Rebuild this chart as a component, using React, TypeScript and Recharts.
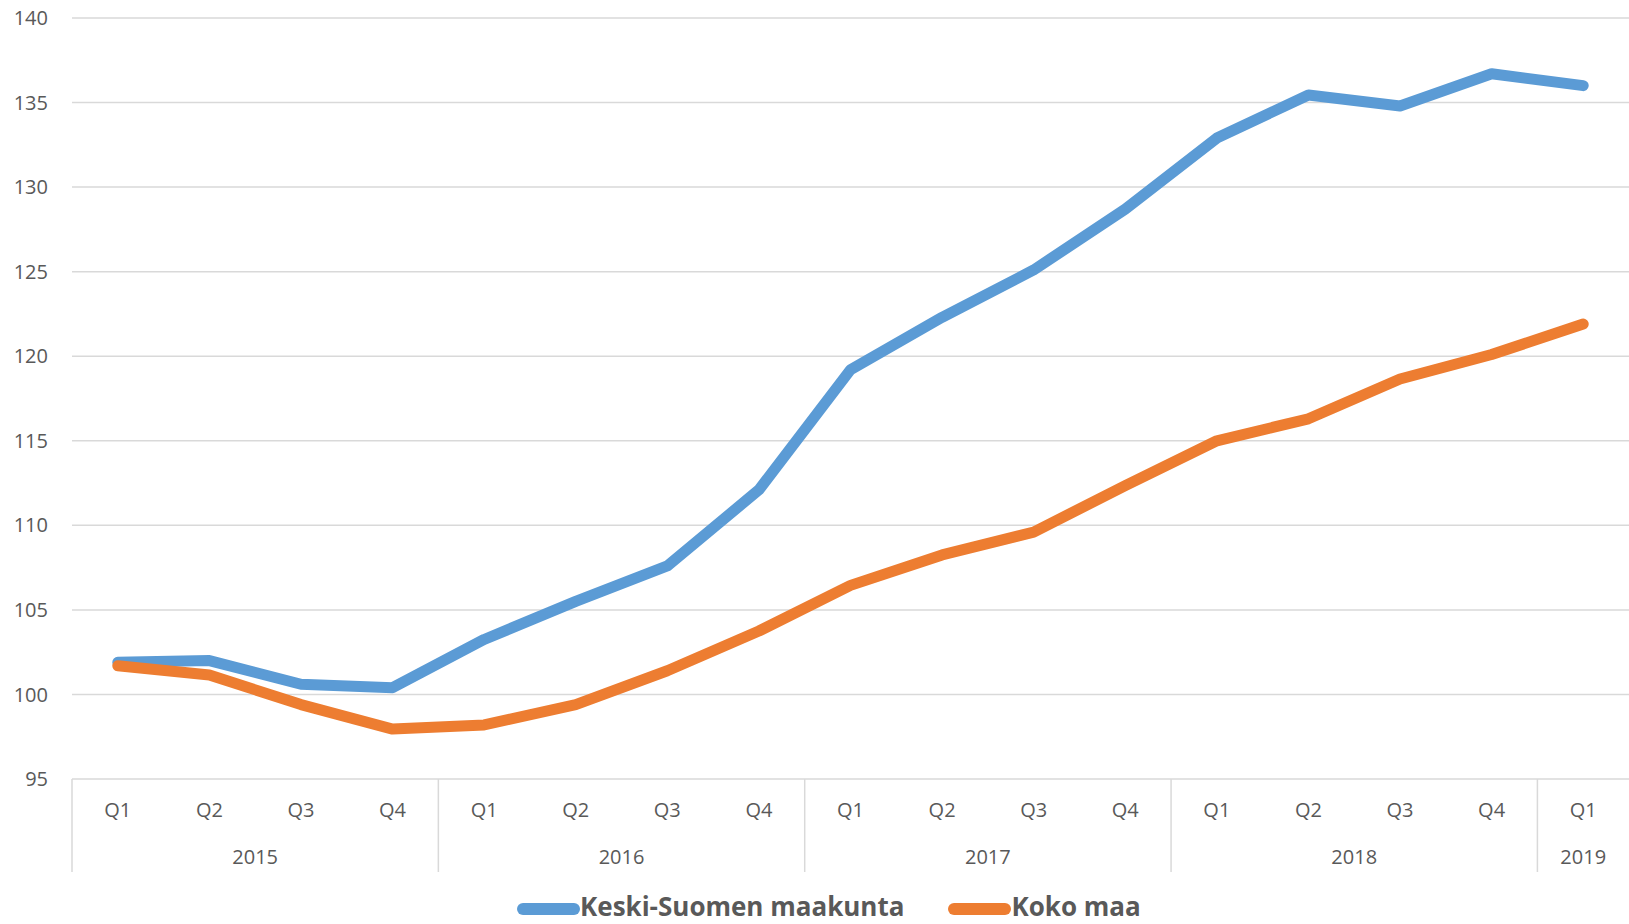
import { CartesianGrid, Legend, Line, LineChart, XAxis, YAxis } from "recharts";

const quarters = ["Q1", "Q2", "Q3", "Q4", "Q1", "Q2", "Q3", "Q4", "Q1", "Q2", "Q3", "Q4", "Q1", "Q2", "Q3", "Q4", "Q1"];
const years = [
  "2015", "2015", "2015", "2015",
  "2016", "2016", "2016", "2016",
  "2017", "2017", "2017", "2017",
  "2018", "2018", "2018", "2018",
  "2019",
];
const keskiSuomi = [101.9, 102.0, 100.6, 100.4, 103.25, 105.5, 107.6, 112.1, 119.2, 122.3, 125.1, 128.7, 132.9, 135.45, 134.8, 136.7, 136.0];
const kokoMaa = [101.7, 101.15, 99.4, 97.95, 98.2, 99.4, 101.4, 103.75, 106.45, 108.25, 109.6, 112.35, 115.0, 116.3, 118.65, 120.1, 121.9];
const yTicks = [95, 100, 105, 110, 115, 120, 125, 130, 135, 140];

const W = 1629;
const H = 924;
const Y_AXIS_W = 72;
const STEP = (W - Y_AXIS_W) / quarters.length;
const FONT = "'Open Sans', sans-serif";
const TEXT = "#595959";
const GRID = "#D9D9D9";

const data = quarters.map((q, i) => ({
  key: `${years[i]} ${q}`,
  q,
  year: years[i],
  ks: keskiSuomi[i],
  km: kokoMaa[i],
}));

function CategoryTick(props: any) {
  const { x, y, index } = props;
  const year = years[index];
  const firstOfYear = index === 0 || years[index - 1] !== year;
  const count = years.filter((v) => v === year).length;
  return (
    <g>
      <text x={x} y={y + 38} textAnchor="middle" fontSize={20} fill={TEXT} fontFamily={FONT}>
        {quarters[index]}
      </text>
      {firstOfYear && (
        <>
          <line x1={x - STEP / 2} x2={x - STEP / 2} y1={y} y2={y + 93} stroke={GRID} strokeWidth={1.5} />
          <text
            x={x + ((count - 1) * STEP) / 2}
            y={y + 85}
            textAnchor="middle"
            fontSize={20}
            fill={TEXT}
            fontFamily={FONT}
          >
            {year}
          </text>
        </>
      )}
    </g>
  );
}

function renderLegend(props: any) {
  const items = props.payload || [];
  return (
    <div
      style={{
        position: "absolute",
        left: 517,
        top: 888,
        display: "flex",
        gap: 44,
        fontFamily: FONT,
        fontWeight: 700,
        fontSize: 26,
        lineHeight: "36px",
        color: TEXT,
        whiteSpace: "nowrap",
      }}
    >
      {items.map((entry: any) => (
        <div key={entry.value} style={{ display: "flex", alignItems: "center" }}>
          <span
            style={{
              display: "inline-block",
              width: 63,
              height: 12,
              borderRadius: 6,
              background: entry.color,
              transform: "translateY(3px)",
            }}
          />
          <span>{entry.value}</span>
        </div>
      ))}
    </div>
  );
}

export default function App() {
  return (
    <div style={{ position: "absolute", left: 0, top: 0, width: W, height: H, overflow: "hidden", background: "#ffffff" }}>
      <LineChart width={W} height={H} data={data} margin={{ top: 18, right: 0, left: 0, bottom: 0 }}>
        <CartesianGrid vertical={false} stroke={GRID} strokeWidth={1.5} />
        <XAxis
          dataKey="key"
          scale="band"
          height={145}
          interval={0}
          tickSize={0}
          tickMargin={0}
          tickLine={false}
          axisLine={false}
          tick={<CategoryTick />}
        />
        <YAxis
          domain={[95, 140]}
          ticks={yTicks}
          width={Y_AXIS_W}
          tickSize={0}
          tickMargin={24}
          axisLine={false}
          tickLine={false}
          tick={{ fontSize: 20, fill: TEXT, fontFamily: FONT }}
        />
        <Legend
          verticalAlign="bottom"
          wrapperStyle={{ top: 0, left: 0, width: W, height: 0 }}
          content={renderLegend}
        />
        <Line
          type="linear"
          dataKey="ks"
          name="Keski-Suomen maakunta"
          stroke="#5B9BD5"
          strokeWidth={11}
          strokeLinecap="round"
          strokeLinejoin="round"
          dot={false}
          activeDot={false}
          isAnimationActive={false}
        />
        <Line
          type="linear"
          dataKey="km"
          name="Koko maa"
          stroke="#ED7D31"
          strokeWidth={11}
          strokeLinecap="round"
          strokeLinejoin="round"
          dot={false}
          activeDot={false}
          isAnimationActive={false}
        />
      </LineChart>
    </div>
  );
}
